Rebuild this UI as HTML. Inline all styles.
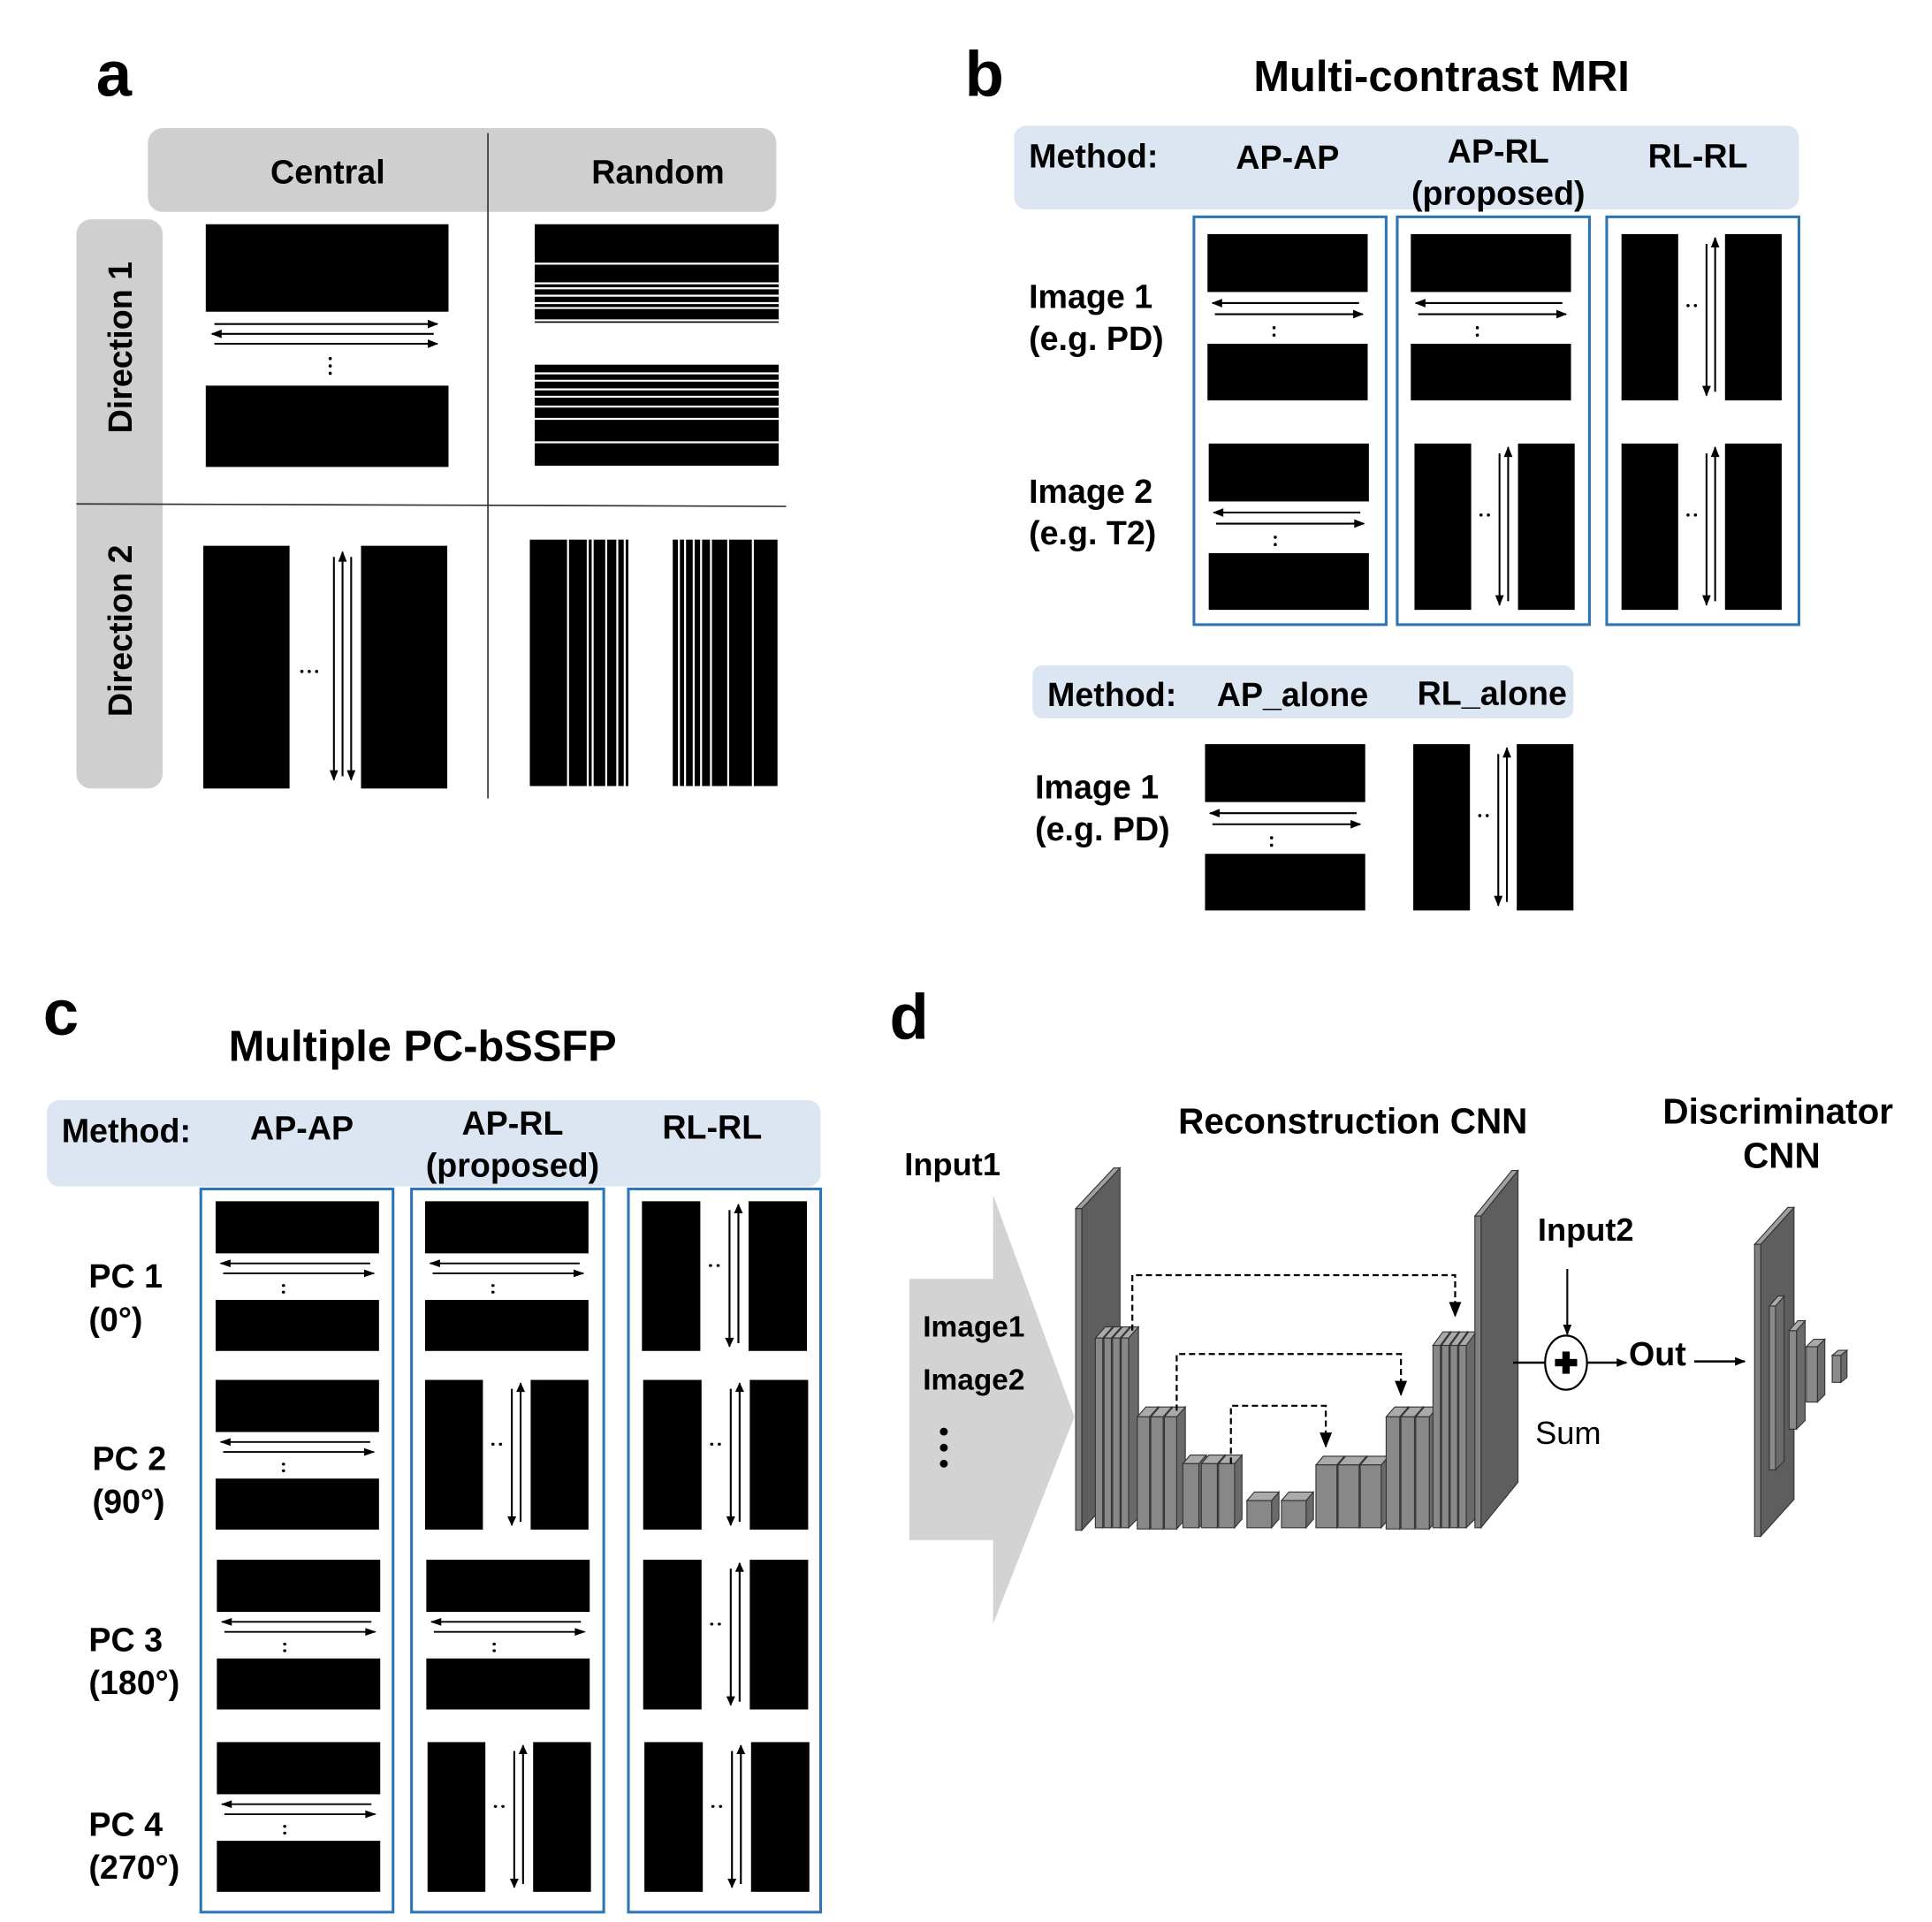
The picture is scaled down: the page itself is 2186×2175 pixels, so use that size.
<!DOCTYPE html>
<html><head><meta charset="utf-8"><style>html,body{margin:0;padding:0;background:#fff}svg{display:block}</style></head>
<body>
<svg width="2186" height="2175" viewBox="0 0 1568 1560" preserveAspectRatio="none" xmlns="http://www.w3.org/2000/svg" font-family="'Liberation Sans', sans-serif">
<defs>
<marker id="ah" viewBox="0 0 10 8" refX="9" refY="4" markerWidth="9" markerHeight="7" markerUnits="userSpaceOnUse" orient="auto"><path d="M0,0L10,4L0,8z" fill="#000"/></marker>
<marker id="ah2" viewBox="0 0 10 8" refX="9" refY="4" markerWidth="13" markerHeight="10" markerUnits="userSpaceOnUse" orient="auto"><path d="M0,0L10,4L0,8z" fill="#000"/></marker>
<g id="ap">
<rect x="0" y="0" width="130" height="47" fill="#000"/>
<line x1="123" y1="56" x2="4" y2="56" stroke="#000" stroke-width="1.5" marker-end="url(#ah)"/>
<line x1="6" y1="65" x2="126" y2="65" stroke="#000" stroke-width="1.5" marker-end="url(#ah)"/>
<circle cx="54" cy="76" r="1.3"/><circle cx="54" cy="82" r="1.3"/>
<rect x="0" y="89" width="130" height="46" fill="#000"/>
</g>
<g id="rl">
<rect x="0" y="0" width="46" height="135" fill="#000"/>
<rect x="84" y="0" width="46" height="135" fill="#000"/>
<line x1="69" y1="8" x2="69" y2="131" stroke="#000" stroke-width="1.5" marker-end="url(#ah)"/>
<line x1="76" y1="128" x2="76" y2="3" stroke="#000" stroke-width="1.5" marker-end="url(#ah)"/>
<circle cx="54" cy="58" r="1.3"/><circle cx="60" cy="58" r="1.3"/>
</g>
</defs>

<!-- Panel a -->
<text x="78" y="78" font-size="52" font-weight="bold">a</text>
<rect x="120" y="104" width="510" height="68" rx="12" fill="#d0cfd0"/>
<rect x="62" y="178" width="70" height="462" rx="12" fill="#d0cfd0"/>
<line x1="396" y1="108" x2="396" y2="648" stroke="#333" stroke-width="1.2"/>
<line x1="62" y1="409" x2="638" y2="411" stroke="#333" stroke-width="1.2"/>
<text x="266" y="149" font-size="27" font-weight="bold" text-anchor="middle">Central</text>
<text x="534" y="149" font-size="27" font-weight="bold" text-anchor="middle">Random</text>
<text transform="translate(107,282) rotate(-90)" font-size="27" font-weight="bold" text-anchor="middle">Direction 1</text>
<text transform="translate(107,512) rotate(-90)" font-size="27" font-weight="bold" text-anchor="middle">Direction 2</text>
<rect x="167" y="182" width="197" height="71" fill="#000"/>
<line x1="174" y1="263" x2="355" y2="263" stroke="#000" stroke-width="1.5" marker-end="url(#ah)"/>
<line x1="352" y1="271" x2="172" y2="271" stroke="#000" stroke-width="1.5" marker-end="url(#ah)"/>
<line x1="174" y1="279" x2="355" y2="279" stroke="#000" stroke-width="1.5" marker-end="url(#ah)"/>
<circle cx="268" cy="291" r="1.3"/><circle cx="268" cy="297" r="1.3"/><circle cx="268" cy="303" r="1.3"/>
<rect x="167" y="313" width="197" height="66" fill="#000"/>
<rect x="434" y="182" width="198" height="80" fill="#000"/>
<g stroke="#fff" stroke-width="1.6"><line x1="434" x2="632" y1="214" y2="214"/><line x1="434" x2="632" y1="230" y2="230"/><line x1="434" x2="632" y1="234" y2="234"/><line x1="434" x2="632" y1="240" y2="240"/><line x1="434" x2="632" y1="246" y2="246"/><line x1="434" x2="632" y1="250" y2="250"/><line x1="434" x2="632" y1="260" y2="260"/></g>
<rect x="434" y="296" width="198" height="82" fill="#000"/>
<g stroke="#fff" stroke-width="1.6"><line x1="434" x2="632" y1="303" y2="303"/><line x1="434" x2="632" y1="309" y2="309"/><line x1="434" x2="632" y1="316" y2="316"/><line x1="434" x2="632" y1="322" y2="322"/><line x1="434" x2="632" y1="330" y2="330"/><line x1="434" x2="632" y1="340" y2="340"/><line x1="434" x2="632" y1="359" y2="359"/></g>
<rect x="165" y="443" width="70" height="197" fill="#000"/>
<rect x="293" y="443" width="70" height="197" fill="#000"/>
<line x1="271" y1="452" x2="271" y2="633" stroke="#000" stroke-width="1.5" marker-end="url(#ah)"/>
<line x1="278" y1="630" x2="278" y2="448" stroke="#000" stroke-width="1.5" marker-end="url(#ah)"/>
<line x1="285" y1="452" x2="285" y2="633" stroke="#000" stroke-width="1.5" marker-end="url(#ah)"/>
<circle cx="245" cy="545" r="1.3"/><circle cx="251" cy="545" r="1.3"/><circle cx="257" cy="545" r="1.3"/>
<rect x="430" y="438" width="80" height="200" fill="#000"/>
<g stroke="#fff" stroke-width="1.6"><line y1="438" y2="638" x1="461" x2="461"/><line y1="438" y2="638" x1="477" x2="477"/><line y1="438" y2="638" x1="481" x2="481"/><line y1="438" y2="638" x1="492" x2="492"/><line y1="438" y2="638" x1="501" x2="501"/><line y1="438" y2="638" x1="507" x2="507"/></g>
<rect x="546" y="438" width="85" height="200" fill="#000"/>
<g stroke="#fff" stroke-width="1.6"><line y1="438" y2="638" x1="551" x2="551"/><line y1="438" y2="638" x1="556" x2="556"/><line y1="438" y2="638" x1="563" x2="563"/><line y1="438" y2="638" x1="569" x2="569"/><line y1="438" y2="638" x1="577" x2="577"/><line y1="438" y2="638" x1="591" x2="591"/><line y1="438" y2="638" x1="611" x2="611"/></g>

<!-- Panel b -->
<text x="783" y="78" font-size="52" font-weight="bold">b</text>
<text x="1170" y="74" font-size="35" font-weight="bold" text-anchor="middle">Multi-contrast MRI</text>
<rect x="823" y="102" width="637" height="68" rx="10" fill="#dce6f2"/>
<text x="835" y="136" font-size="27" font-weight="bold">Method:</text>
<text x="1045" y="137" font-size="27" font-weight="bold" text-anchor="middle">AP-AP</text>
<text x="1216" y="132" font-size="27" font-weight="bold" text-anchor="middle">AP-RL</text>
<text x="1216" y="166" font-size="27" font-weight="bold" text-anchor="middle">(proposed)</text>
<text x="1378" y="136" font-size="27" font-weight="bold" text-anchor="middle">RL-RL</text>
<g fill="none" stroke="#2e75b6" stroke-width="2.2">
<rect x="969" y="176" width="156" height="331"/><rect x="1134" y="176" width="156" height="331"/><rect x="1304" y="176" width="156" height="331"/>
</g>
<g font-size="27" font-weight="bold">
<text x="835" y="250">Image 1</text><text x="835" y="284">(e.g. PD)</text>
<text x="835" y="408">Image 2</text><text x="835" y="442">(e.g. T2)</text>
</g>
<use href="#ap" x="980" y="190"/>
<use href="#ap" x="981" y="360"/>
<use href="#ap" x="1145" y="190"/>
<use href="#rl" x="1148" y="360"/>
<use href="#rl" x="1316" y="190"/>
<use href="#rl" x="1316" y="360"/>
<rect x="838" y="540" width="439" height="43" rx="8" fill="#dce6f2"/>
<text x="850" y="573" font-size="27" font-weight="bold">Method:</text>
<text x="1049" y="573" font-size="27" font-weight="bold" text-anchor="middle">AP_alone</text>
<text x="1211" y="572" font-size="27" font-weight="bold" text-anchor="middle">RL_alone</text>
<text x="840" y="648" font-size="27" font-weight="bold">Image 1</text>
<text x="840" y="682" font-size="27" font-weight="bold">(e.g. PD)</text>
<use href="#ap" x="978" y="604"/>
<use href="#rl" x="1147" y="604"/>

<!-- Panel c -->
<text x="35" y="840" font-size="52" font-weight="bold">c</text>
<text x="343" y="861" font-size="35" font-weight="bold" text-anchor="middle">Multiple PC-bSSFP</text>
<rect x="38" y="893" width="628" height="70" rx="10" fill="#dce6f2"/>
<text x="50" y="927" font-size="27" font-weight="bold">Method:</text>
<text x="245" y="925" font-size="27" font-weight="bold" text-anchor="middle">AP-AP</text>
<text x="416" y="921" font-size="27" font-weight="bold" text-anchor="middle">AP-RL</text>
<text x="416" y="955" font-size="27" font-weight="bold" text-anchor="middle">(proposed)</text>
<text x="578" y="924" font-size="27" font-weight="bold" text-anchor="middle">RL-RL</text>
<g fill="none" stroke="#2e75b6" stroke-width="2.2">
<rect x="163" y="965" width="156" height="587"/><rect x="334" y="965" width="156" height="587"/><rect x="510" y="965" width="156" height="587"/>
</g>
<g font-size="27" font-weight="bold">
<text x="72" y="1045">PC 1</text><text x="72" y="1080">(0°)</text>
<text x="75" y="1193">PC 2</text><text x="75" y="1228">(90°)</text>
<text x="72" y="1340">PC 3</text><text x="72" y="1375">(180°)</text>
<text x="72" y="1490">PC 4</text><text x="72" y="1525">(270°)</text>
</g>
<g transform="translate(175,975) scale(1.02,0.9)"><use href="#ap"/></g>
<g transform="translate(175,1120) scale(1.02,0.9)"><use href="#ap"/></g>
<g transform="translate(176,1266) scale(1.02,0.9)"><use href="#ap"/></g>
<g transform="translate(176,1414) scale(1.02,0.9)"><use href="#ap"/></g>
<g transform="translate(345,975) scale(1.02,0.9)"><use href="#ap"/></g>
<g transform="translate(345,1120) scale(1.02,0.9)"><use href="#rl"/></g>
<g transform="translate(346,1266) scale(1.02,0.9)"><use href="#ap"/></g>
<g transform="translate(347,1414) scale(1.02,0.9)"><use href="#rl"/></g>
<g transform="translate(521,975) scale(1.03,0.9)"><use href="#rl"/></g>
<g transform="translate(522,1120) scale(1.03,0.9)"><use href="#rl"/></g>
<g transform="translate(522,1266) scale(1.03,0.9)"><use href="#rl"/></g>
<g transform="translate(523,1414) scale(1.03,0.9)"><use href="#rl"/></g>

<!-- Panel d -->
<text x="722" y="843" font-size="52" font-weight="bold">d</text>
<text x="1098" y="920" font-size="29" font-weight="bold" text-anchor="middle">Reconstruction CNN</text>
<text x="1443" y="912" font-size="29" font-weight="bold" text-anchor="middle">Discriminator</text>
<text x="1446" y="948" font-size="29" font-weight="bold" text-anchor="middle">CNN</text>
<text x="734" y="954" font-size="26" font-weight="bold">Input1</text>
<polygon points="738,1038 806,1038 806,970 872,1150 806,1318 806,1250 738,1250" fill="#d3d3d3"/>
<text x="749" y="1085" font-size="24" font-weight="bold">Image1</text>
<text x="749" y="1128" font-size="24" font-weight="bold">Image2</text>
<circle cx="766" cy="1162" r="3.2"/><circle cx="766" cy="1175" r="3.2"/><circle cx="766" cy="1188" r="3.2"/>
<!-- U-net -->
<g stroke="#333" stroke-width="0.8">
<!-- left big slab -->
<polygon points="878,981 909,948 909,1208 878,1242" fill="#5e5e5e"/>
<polygon points="873,981 904,948 909,948 878,981" fill="#a0a0a0"/>
<rect x="873" y="981" width="5" height="261" fill="#808080"/>
<!-- group1 -->
<polygon points="895,1086 903,1077 903,1232 895,1240" fill="#6a6a6a"/><polygon points="889,1086 897,1077 903,1077 895,1086" fill="#aaa"/><rect x="889" y="1086" width="6" height="154" fill="#888"/>
<polygon points="902,1086 910,1077 910,1232 902,1240" fill="#6a6a6a"/><polygon points="896,1086 904,1077 910,1077 902,1086" fill="#aaa"/><rect x="896" y="1086" width="6" height="154" fill="#888"/>
<polygon points="909,1086 917,1077 917,1232 909,1240" fill="#6a6a6a"/><polygon points="903,1086 911,1077 917,1077 909,1086" fill="#aaa"/><rect x="903" y="1086" width="6" height="154" fill="#888"/>
<polygon points="916,1086 924,1077 924,1232 916,1240" fill="#6a6a6a"/><polygon points="910,1086 918,1077 924,1077 916,1086" fill="#aaa"/><rect x="910" y="1086" width="6" height="154" fill="#888"/>
<!-- group2 -->
<polygon points="933,1150 940,1142 940,1233 933,1241" fill="#6a6a6a"/><polygon points="923,1150 930,1142 940,1142 933,1150" fill="#aaa"/><rect x="923" y="1150" width="10" height="91" fill="#888"/>
<polygon points="944,1150 951,1142 951,1233 944,1241" fill="#6a6a6a"/><polygon points="934,1150 941,1142 951,1142 944,1150" fill="#aaa"/><rect x="934" y="1150" width="10" height="91" fill="#888"/>
<polygon points="955,1150 962,1142 962,1233 955,1241" fill="#6a6a6a"/><polygon points="945,1150 952,1142 962,1142 955,1150" fill="#aaa"/><rect x="945" y="1150" width="10" height="91" fill="#888"/>
<!-- group3 -->
<polygon points="973,1188 979,1181 979,1233 973,1240" fill="#6a6a6a"/><polygon points="960,1188 966,1181 979,1181 973,1188" fill="#aaa"/><rect x="960" y="1188" width="13" height="52" fill="#888"/>
<polygon points="988,1188 994,1181 994,1233 988,1240" fill="#6a6a6a"/><polygon points="975,1188 981,1181 994,1181 988,1188" fill="#aaa"/><rect x="975" y="1188" width="13" height="52" fill="#888"/>
<polygon points="1002,1188 1008,1181 1008,1233 1002,1240" fill="#6a6a6a"/><polygon points="989,1188 995,1181 1008,1181 1002,1188" fill="#aaa"/><rect x="989" y="1188" width="13" height="52" fill="#888"/>
<!-- group4 -->
<polygon points="1032,1218 1038,1211 1038,1233 1032,1240" fill="#6a6a6a"/><polygon points="1012,1218 1018,1211 1038,1211 1032,1218" fill="#aaa"/><rect x="1012" y="1218" width="20" height="22" fill="#888"/>
<polygon points="1060,1218 1066,1211 1066,1233 1060,1240" fill="#6a6a6a"/><polygon points="1040,1218 1046,1211 1066,1211 1060,1218" fill="#aaa"/><rect x="1040" y="1218" width="20" height="22" fill="#888"/>
<!-- group5 -->
<polygon points="1085,1189 1091,1182 1091,1233 1085,1240" fill="#6a6a6a"/><polygon points="1068,1189 1074,1182 1091,1182 1085,1189" fill="#aaa"/><rect x="1068" y="1189" width="17" height="51" fill="#888"/>
<polygon points="1103,1189 1109,1182 1109,1233 1103,1240" fill="#6a6a6a"/><polygon points="1086,1189 1092,1182 1109,1182 1103,1189" fill="#aaa"/><rect x="1086" y="1189" width="17" height="51" fill="#888"/>
<polygon points="1121,1189 1127,1182 1127,1233 1121,1240" fill="#6a6a6a"/><polygon points="1104,1189 1110,1182 1127,1182 1121,1189" fill="#aaa"/><rect x="1104" y="1189" width="17" height="51" fill="#888"/>
<!-- group6 -->
<polygon points="1136,1150 1143,1142 1143,1233 1136,1241" fill="#6a6a6a"/><polygon points="1125,1150 1132,1142 1143,1142 1136,1150" fill="#aaa"/><rect x="1125" y="1150" width="11" height="91" fill="#888"/>
<polygon points="1148,1150 1155,1142 1155,1233 1148,1241" fill="#6a6a6a"/><polygon points="1137,1150 1144,1142 1155,1142 1148,1150" fill="#aaa"/><rect x="1137" y="1150" width="11" height="91" fill="#888"/>
<polygon points="1160,1150 1167,1142 1167,1233 1160,1241" fill="#6a6a6a"/><polygon points="1149,1150 1156,1142 1167,1142 1160,1150" fill="#aaa"/><rect x="1149" y="1150" width="11" height="91" fill="#888"/>
<!-- group7 -->
<polygon points="1169,1092 1177,1081 1177,1232 1169,1240" fill="#6a6a6a"/><polygon points="1163,1092 1171,1081 1177,1081 1169,1092" fill="#aaa"/><rect x="1163" y="1092" width="6" height="148" fill="#888"/>
<polygon points="1176,1092 1184,1081 1184,1232 1176,1240" fill="#6a6a6a"/><polygon points="1170,1092 1178,1081 1184,1081 1176,1092" fill="#aaa"/><rect x="1170" y="1092" width="6" height="148" fill="#888"/>
<polygon points="1183,1092 1191,1081 1191,1232 1183,1240" fill="#6a6a6a"/><polygon points="1177,1092 1185,1081 1191,1081 1183,1092" fill="#aaa"/><rect x="1177" y="1092" width="6" height="148" fill="#888"/>
<polygon points="1190,1092 1198,1081 1198,1232 1190,1240" fill="#6a6a6a"/><polygon points="1184,1092 1192,1081 1198,1081 1190,1092" fill="#aaa"/><rect x="1184" y="1092" width="6" height="148" fill="#888"/>
<!-- right big slab -->
<polygon points="1202,987 1232,950 1232,1203 1202,1240" fill="#5e5e5e"/>
<polygon points="1197,987 1227,950 1232,950 1202,987" fill="#a0a0a0"/>
<rect x="1197" y="987" width="5" height="253" fill="#808080"/>
</g>
<g fill="none" stroke="#000" stroke-width="1.6" stroke-dasharray="5,3">
<polyline points="919,1080 919,1035 1181,1035 1181,1068" marker-end="url(#ah2)"/>
<polyline points="955,1145 955,1099 1137,1099 1137,1132" marker-end="url(#ah2)"/>
<polyline points="999,1188 999,1141 1076,1141 1076,1174" marker-end="url(#ah2)"/>
</g>
<!-- sum -->
<text x="1248" y="1007" font-size="26" font-weight="bold">Input2</text>
<line x1="1272" y1="1030" x2="1272" y2="1083" stroke="#000" stroke-width="1.5" marker-end="url(#ah)"/>
<line x1="1228" y1="1106" x2="1254" y2="1106" stroke="#000" stroke-width="1.8"/>
<ellipse cx="1271" cy="1106" rx="17" ry="22" fill="#fff" stroke="#000" stroke-width="1.6"/>
<rect x="1262" y="1103" width="18" height="6" fill="#000"/><rect x="1268" y="1097" width="6" height="18" fill="#000"/>
<line x1="1288" y1="1106" x2="1320" y2="1106" stroke="#000" stroke-width="1.8" marker-end="url(#ah)"/>
<text x="1322" y="1108" font-size="27" font-weight="bold">Out</text>
<line x1="1375" y1="1105" x2="1416" y2="1105" stroke="#000" stroke-width="1.8" marker-end="url(#ah)"/>
<text x="1246" y="1172" font-size="26">Sum</text>
<!-- discriminator -->
<g stroke="#333" stroke-width="0.8">
<polygon points="1429,1010 1456,980 1456,1217 1429,1247" fill="#5e5e5e"/>
<polygon points="1424,1010 1451,980 1456,980 1429,1010" fill="#a0a0a0"/>
<rect x="1424" y="1010" width="5" height="237" fill="#808080"/>
<polygon points="1441,1060 1448,1052 1448,1186 1441,1193" fill="#6a6a6a"/><rect x="1436" y="1060" width="5" height="133" fill="#8a8a8a"/><polygon points="1436,1060 1443,1052 1448,1052 1441,1060" fill="#aaa"/>
<polygon points="1458,1080 1465,1072 1465,1153 1458,1160" fill="#6a6a6a"/><rect x="1452" y="1080" width="6" height="80" fill="#8a8a8a"/><polygon points="1452,1080 1459,1072 1465,1072 1458,1080" fill="#aaa"/>
<polygon points="1475,1093 1481,1087 1481,1132 1475,1138" fill="#6a6a6a"/><rect x="1466" y="1093" width="9" height="45" fill="#8a8a8a"/><polygon points="1466,1093 1472,1087 1481,1087 1475,1093" fill="#aaa"/>
<polygon points="1494,1100 1499,1096 1499,1118 1494,1122" fill="#6a6a6a"/><rect x="1487" y="1100" width="7" height="22" fill="#8a8a8a"/><polygon points="1487,1100 1492,1096 1499,1096 1494,1100" fill="#aaa"/>
</g>
</svg>
</body></html>
